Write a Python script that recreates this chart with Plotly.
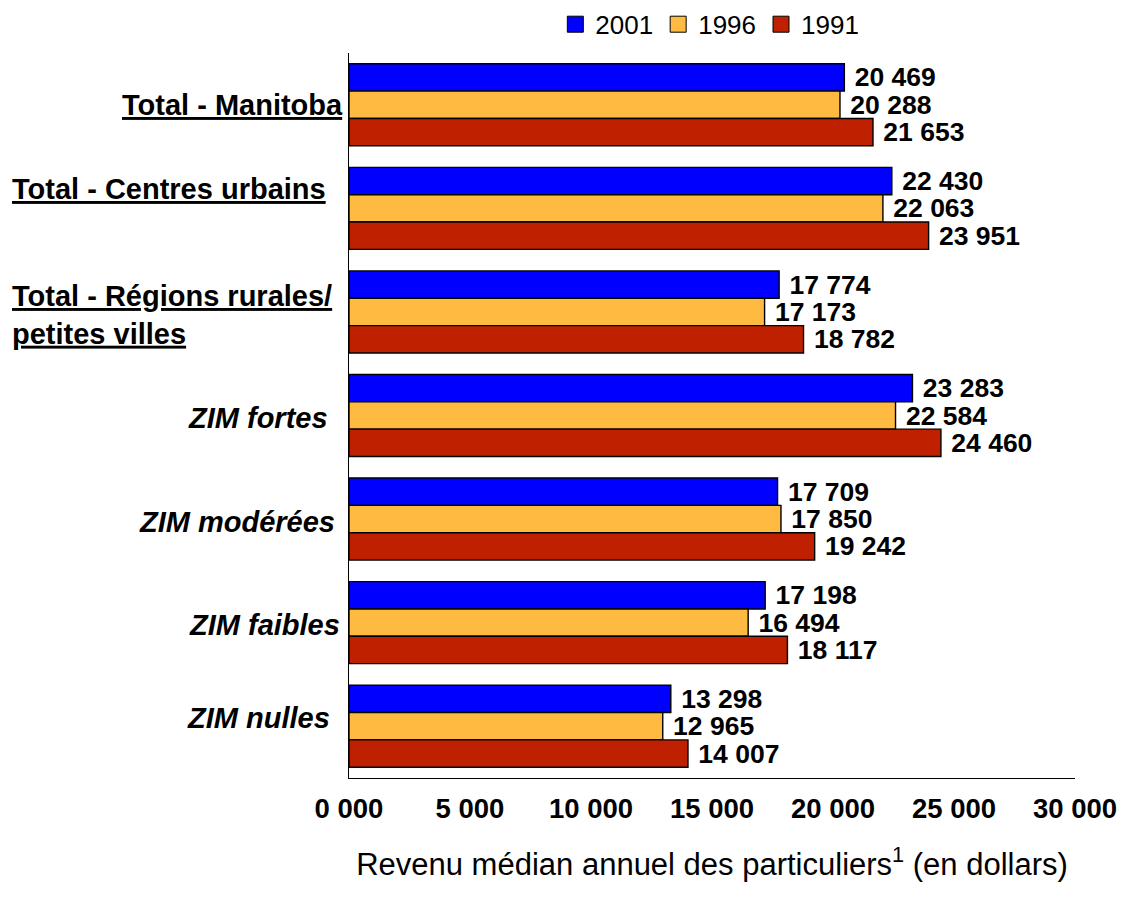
import plotly.graph_objects as go

categories = ["Total - Manitoba", "Total - Centres urbains",
              "Total - Régions rurales/ petites villes", "ZIM fortes",
              "ZIM modérées", "ZIM faibles", "ZIM nulles"]
category_labels = ["Total - Manitoba", "Total - Centres urbains",
                   "Total - Régions rurales/<br>petites villes", "ZIM fortes",
                   "ZIM modérées", "ZIM faibles", "ZIM nulles"]
years = ["2001", "1996", "1991"]
v2001 = [20469, 22430, 17774, 23283, 17709, 17198, 13298]
v1996 = [20288, 22063, 17173, 22584, 17850, 16494, 12965]
v1991 = [21653, 23951, 18782, 24460, 19242, 18117, 14007]
tick_vals = [0, 5000, 10000, 15000, 20000, 25000, 30000]
tick_text = ["0 000", "5 000", "10 000", "15 000", "20 000", "25 000", "30 000"]
x_title = "Revenu médian annuel des particuliers<sup>1</sup> (en dollars)"

colors = ["#0000FF", "#FFBA42", "#BF2000"]
FONT = "Liberation Sans, Arial, sans-serif"

fig = go.Figure()
for name, vals, col in zip(years, [v2001, v1996, v1991], colors):
    fig.add_trace(go.Bar(
        y=categories, x=vals, orientation="h", name=name,
        marker=dict(color=col, line=dict(color="#000000", width=1.4)),
        text=vals, texttemplate="\u00a0%{x:,}", textposition="outside",
        constraintext="none", cliponaxis=False,
        textfont=dict(family=FONT, size=26.5, color="#000000", weight="bold"),
        showlegend=False,
    ))
    # legend proxy with larger square symbol
    fig.add_trace(go.Scatter(
        x=[None], y=[None], mode="markers", name=name,
        marker=dict(symbol="square", size=17, color=col,
                    line=dict(color="#000000", width=1)),
    ))

# category labels
label_specs = [
    # (paper-x, xanchor, yshift, style)
    ((345 - 349) / 726, "right", 0, "total"),
    ((10 - 349) / 726, "left", 19, "total"),
    ((10 - 349) / 726, "left", -3, "total"),
    ((330 - 349) / 726, "right", -2, "zim"),
    ((337 - 349) / 726, "right", -3, "zim"),
    ((342 - 349) / 726, "right", -2, "zim"),
    ((332 - 349) / 726, "right", 8, "zim"),
]
for cat, lab, (px, anc, ys, style) in zip(categories, category_labels, label_specs):
    if style == "total":
        f = dict(family=FONT, size=29, color="#000000", weight="bold", lineposition="under")
    else:
        f = dict(family=FONT, size=29, color="#000000", weight="bold", style="italic")
    fig.add_annotation(x=px, xref="paper", y=cat, yref="y", text=lab,
                       showarrow=False, xanchor=anc, yanchor="middle",
                       align="left", yshift=ys, font=f)

fig.update_layout(
    width=1125, height=905,
    margin=dict(l=341, r=58, t=45, b=135, autoexpand=False),
    paper_bgcolor="white", plot_bgcolor="white",
    barmode="group", bargap=0.208, bargroupgap=0,
    separators=", ",
    font=dict(family=FONT, color="#000000"),
    legend=dict(orientation="h", x=0.497, xanchor="center", y=1.072, yanchor="top",
                font=dict(family=FONT, size=26, color="#000000"),
                itemwidth=30, tracegroupgap=0, bgcolor="rgba(0,0,0,0)"),
    showlegend=True,
)
fig.update_yaxes(autorange="reversed", showticklabels=False, ticks="",
                 showline=True, linecolor="#000000", linewidth=1,
                 showgrid=False, zeroline=False, automargin=False)
fig.update_xaxes(range=[0, 30000], tickvals=tick_vals, ticktext=tick_text,
                 ticks="", ticklabelstandoff=6, automargin=False,
                 tickfont=dict(family=FONT, size=27.5, color="#000000", weight="bold"),
                 showline=True, linecolor="#000000", linewidth=1,
                 showgrid=False, zeroline=False,
                 title=dict(text=x_title, standoff=30,
                            font=dict(family=FONT, size=31, color="#000000")))

fig.write_html("out.html")
